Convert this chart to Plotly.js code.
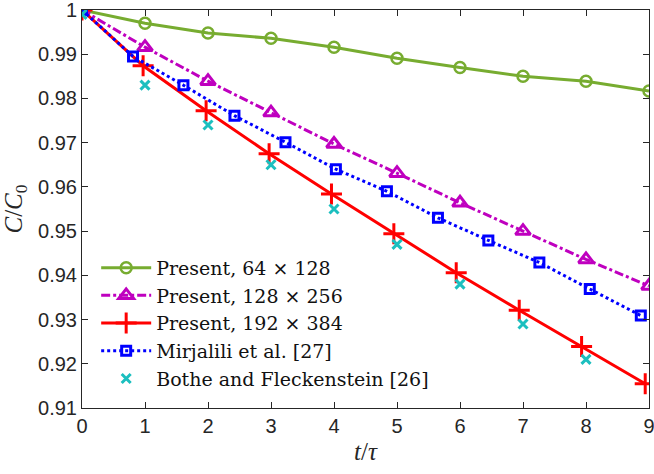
<!DOCTYPE html>
<html><head><meta charset="utf-8">
<script src="https://cdn.plot.ly/plotly-3.0.1.min.js"></script>
<style>html,body{margin:0;padding:0;background:#fff}#chart{width:654px;height:474px}</style>
</head><body><div id="chart"></div>
<script>
// Present, 64x128
const xGreen = [0, 1, 2, 3, 4, 5, 6, 7, 8, 9];
const yGreen = [1.0, 0.9970, 0.9948, 0.9936, 0.9916, 0.9891, 0.9870, 0.9850, 0.9839, 0.9817];
// Present, 128x256
const xMag = [0, 1, 2, 3, 4, 5, 6, 7, 8, 9];
const yMag = [1.0, 0.9916, 0.9839, 0.9768, 0.9697, 0.9631, 0.9564, 0.9500, 0.9436, 0.9376];
// Present, 192x384
const xRed = [0, 0.97, 1.97, 2.97, 3.96, 4.95, 5.94, 6.94, 7.93, 8.94];
const yRed = [1.0, 0.9874, 0.9772, 0.9675, 0.9584, 0.9494, 0.9406, 0.9321, 0.9239, 0.9155];
// Mirjalili et al. [27]
const xBlue = [0, 0.81, 1.61, 2.42, 3.23, 4.03, 4.84, 5.65, 6.45, 7.26, 8.06, 8.87];
const yBlue = [1.0, 0.9895, 0.9830, 0.9761, 0.9701, 0.9640, 0.9590, 0.9530, 0.9479, 0.9429, 0.9369, 0.9309];
// Bothe and Fleckenstein [26]
const xCyan = [0, 1, 2, 3, 4, 5, 6, 7, 8];
const yCyan = [0.999, 0.983, 0.974, 0.965, 0.955, 0.947, 0.938, 0.929, 0.921];

const xTicks = [0, 1, 2, 3, 4, 5, 6, 7, 8, 9];
const yTicks = [0.91, 0.92, 0.93, 0.94, 0.95, 0.96, 0.97, 0.98, 0.99, 1];
const yTickText = ['0.91', '0.92', '0.93', '0.94', '0.95', '0.96', '0.97', '0.98', '0.99', '1'];

const traces = [
  {x: xGreen, y: yGreen, name: 'Present, 64 × 128', mode: 'lines+markers',
   line: {color: '#77AC30', width: 3},
   marker: {symbol: 'circle-open', size: 11, line: {width: 2.5, color: '#77AC30'}, color: '#77AC30'}},
  {x: xMag, y: yMag, name: 'Present, 128 × 256', mode: 'lines+markers',
   line: {color: '#BF00BF', width: 3, dash: 'dashdot'},
   marker: {symbol: 'triangle-up-open', size: 13, line: {width: 3, color: '#BF00BF'}, color: '#BF00BF'}},
  {x: xRed, y: yRed, name: 'Present, 192 × 384', mode: 'lines+markers',
   line: {color: '#FF0000', width: 3},
   marker: {symbol: 'cross-thin-open', size: 15, line: {width: 3, color: '#FF0000'}, color: '#FF0000'}},
  {x: xBlue, y: yBlue, name: 'Mirjalili et al. [27]', mode: 'lines+markers',
   line: {color: '#0000FF', width: 3, dash: 'dot'},
   marker: {symbol: 'square-open', size: 9, line: {width: 3, color: '#0000FF'}, color: '#0000FF'}},
  {x: xCyan, y: yCyan, name: 'Bothe and Fleckenstein [26]', mode: 'markers',
   marker: {symbol: 'x-thin-open', size: 9, line: {width: 3, color: '#1CBFBF'}, color: '#1CBFBF'}}
];

const axisCommon = {
  showgrid: false, zeroline: false, showline: true, mirror: 'ticks',
  linecolor: '#262626', linewidth: 1, ticks: 'inside', ticklen: 6, tickwidth: 1,
  ticklabeloverflow: 'allow',
  tickcolor: '#262626', tickfont: {family: 'Liberation Sans, Arial, sans-serif', size: 20, color: '#262626'}
};

const layout = {
  width: 654, height: 474,
  margin: {l: 82, r: 5, t: 10, b: 66},
  paper_bgcolor: '#fff', plot_bgcolor: '#fff',
  showlegend: true,
  legend: {x: 0.025, y: 0.40, xanchor: 'left', yanchor: 'top', bgcolor: 'rgba(255,255,255,0)',
    font: {family: 'DejaVu Serif, serif', size: 19, color: '#111'},
    itemwidth: 50, tracegroupgap: 0},
  xaxis: Object.assign({}, axisCommon, {range: [0, 9], tickvals: xTicks,
    title: {text: '<i>t</i>/<i>τ</i>', font: {family: 'Liberation Serif, serif', size: 25, color: '#262626'}, standoff: 6}}),
  yaxis: Object.assign({}, axisCommon, {range: [0.91, 1], tickvals: yTicks, ticktext: yTickText,
    title: {text: '<i>C</i>/<i>C</i><sub>0</sub>', font: {family: 'Liberation Serif, serif', size: 25, color: '#262626'}, standoff: 8}})
};

Plotly.newPlot('chart', traces, layout, {displayModeBar: false, staticPlot: true});
</script></body></html>
